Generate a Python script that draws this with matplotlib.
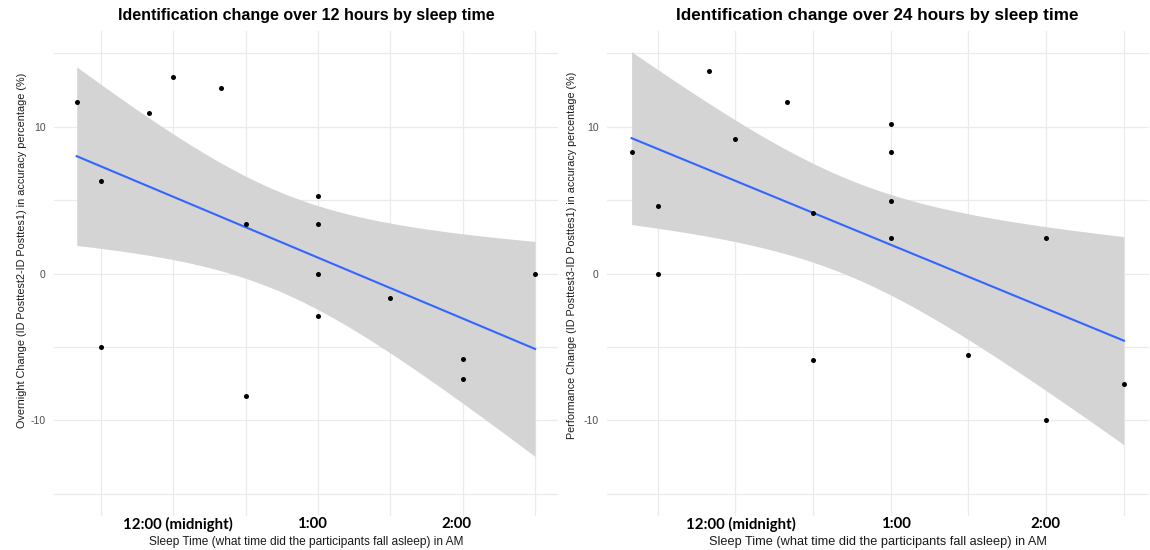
import numpy as np
import matplotlib
matplotlib.use("Agg")
import matplotlib.pyplot as plt

# ---------------- data (hours relative to midnight, accuracy change in %) ----
sleep_12h = [-0.667, -0.5, -0.5, -0.167, 0.0, 0.333, 0.5, 0.5,
             1.0, 1.0, 1.0, 1.0, 1.5, 2.0, 2.0, 2.5]
change_12h = [11.7, 6.3, -5.0, 10.9, 13.4, 12.6, 3.35, -8.35,
              5.25, 3.35, 0.0, -2.9, -1.7, -5.8, -7.2, 0.0]

sleep_24h = [-0.667, -0.5, -0.5, -0.167, 0.0, 0.333, 0.5, 0.5,
             1.0, 1.0, 1.0, 1.0, 1.5, 2.0, 2.0, 2.5]
change_24h = [8.3, 4.56, 0.0, 13.8, 9.13, 11.65, 4.1, -5.86,
              10.15, 8.3, 4.95, 2.43, -5.52, 2.43, -10.0, -7.54]

tick_pos = [0, 1, 2]
tick_labels = ["12:00 (midnight)", "1:00", "2:00"]
y_ticks = [-10, 0, 10]

titles = ["Identification change over 12 hours by sleep time",
          "Identification change over 24 hours by sleep time"]
ylabels = ["Overnight Change (ID Posttest2-ID Posttes1) in accuracy percentage (%)",
           "Performance Change (ID Posttest3-ID Posttes1) in accuracy percentage (%)"]
xlabel = "Sleep Time (what time did the participants fall asleep) in AM"

T_CRIT = 2.1448  # t quantile 0.975, df = 14

W, H = 1150, 550
fig = plt.figure(figsize=(W / 100, H / 100), dpi=100)


def px_axes(l, r, t, b):
    return fig.add_axes([l / W, 1 - b / H, (r - l) / W, (b - t) / H])


def draw(ax, xs, ys, title, ylab, title_fs, ylab_fs, xlab_fs, tick_fs, shifts_px):
    xs = np.asarray(xs, float)
    ys = np.asarray(ys, float)
    n = len(xs)
    # linear fit with 95% confidence band (like geom_smooth(method='lm'))
    mx = xs.mean()
    sxx = ((xs - mx) ** 2).sum()
    b1 = ((xs - mx) * (ys - ys.mean())).sum() / sxx
    b0 = ys.mean() - b1 * mx
    resid = ys - (b0 + b1 * xs)
    s = np.sqrt((resid ** 2).sum() / (n - 2))
    xg = np.linspace(xs.min(), xs.max(), 80)
    yg = b0 + b1 * xg
    se = s * np.sqrt(1 / n + (xg - mx) ** 2 / sxx)

    ax.fill_between(xg, yg - T_CRIT * se, yg + T_CRIT * se,
                    color="#D4D4D4", lw=0, zorder=2)
    ax.plot(xg, yg, color="#3366FF", lw=1.5, zorder=3)
    ax.scatter(xs, ys, s=13, color="black", zorder=4, linewidths=0)

    rng = xs.max() - xs.min()
    x0, x1 = xs.min() - 0.05 * rng, xs.max() + 0.05 * rng
    ax.set_xlim(x0, x1)
    ax.set_ylim(-16.5, 16.5)

    for gx in np.arange(-0.5, 2.51, 0.5):
        ax.axvline(gx, color="#EBEBEB", lw=0.9, zorder=1)
    for gy in [-15, -10, -5, 0, 5, 10, 15]:
        ax.axhline(gy, color="#EBEBEB", lw=0.9, zorder=1)

    for sp in ax.spines.values():
        sp.set_visible(False)

    # the hand-placed hour labels sit slightly off the hour positions
    px_per_unit = ax.get_position().width * W / (x1 - x0)
    label_pos = [p + d / px_per_unit for p, d in zip(tick_pos, shifts_px)]
    ax.set_xticks(label_pos)
    ax.set_xticklabels(tick_labels, fontfamily="Lato", fontweight="bold",
                       fontsize=tick_fs, color="black")
    ax.set_yticks(y_ticks)
    ax.set_yticklabels([str(v) for v in y_ticks], fontfamily="Liberation Sans",
                       fontsize=7.5, color="#4D4D4D")
    ax.tick_params(axis="x", length=0, pad=1)
    ax.tick_params(axis="y", length=0, pad=6)

    ax.set_title(title, fontfamily="Liberation Sans", fontweight="bold",
                 fontsize=title_fs, y=1.031, va="center", pad=0)
    ax.set_xlabel(xlabel, fontfamily="Liberation Sans", fontsize=xlab_fs,
                  color="#1A1A1A", va="center")
    ax.set_ylabel(ylab, fontfamily="Liberation Sans", fontsize=ylab_fs,
                  color="#1A1A1A", va="center")


ax1 = px_axes(53.8, 558, 31, 516)
draw(ax1, sleep_12h, change_12h, titles[0], ylabels[0],
     11.5, 7.85, 8.6, 10.8, [5, -6, -6])
ax1.xaxis.set_label_coords(0.5, (516 - 541.5) / 485)
ax1.yaxis.set_label_coords((21.7 - 53.8) / 504.2, (516 - 250) / 485)

ax2 = px_axes(607, 1148.5, 31, 516)
draw(ax2, sleep_24h, change_24h, titles[1], ylabels[1],
     12.3, 7.75, 9.2, 10.8, [6, 5.5, -1])
ax2.xaxis.set_label_coords(0.5, (516 - 541.5) / 485)
ax2.yaxis.set_label_coords((572 - 607) / 541.5, (516 - 255) / 485)

fig.savefig("out.png", dpi=100, facecolor="white")
